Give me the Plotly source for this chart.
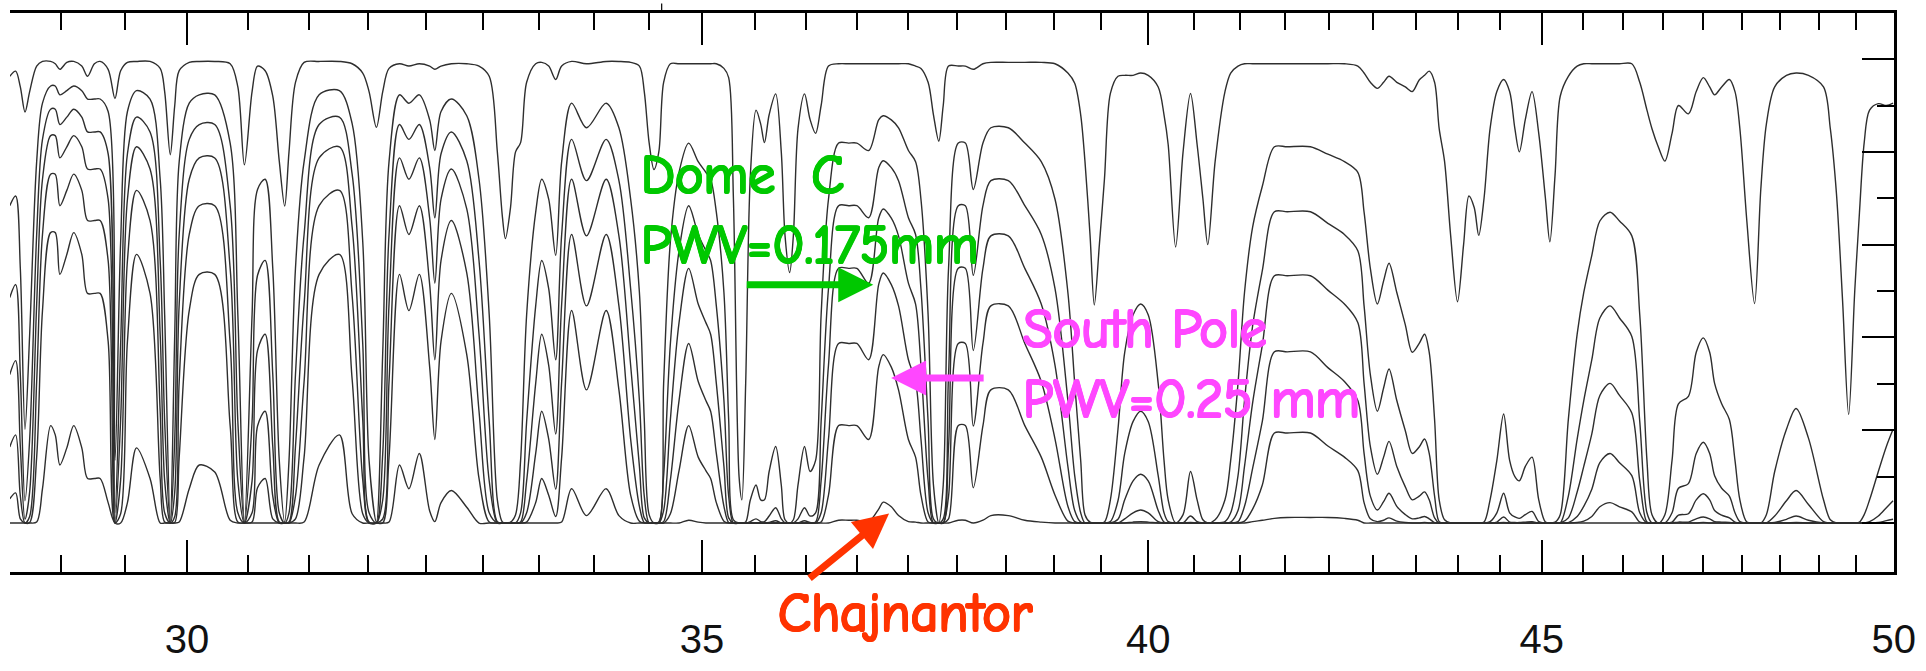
import math
import plotly.graph_objects as go

# Wavelength samples (micron) shared by all transmission curves
wavelength_um = [
    28.45, 28.50, 28.54, 28.58, 28.62, 28.68, 28.73, 28.80, 28.84, 28.88,
    28.94, 29.00, 29.07, 29.12, 29.18, 29.23, 29.30, 29.36, 29.41, 29.47,
    29.55, 29.67, 29.76, 29.80, 29.85, 29.89, 29.93, 30.02, 30.11, 30.25,
    30.39, 30.46, 30.52, 30.59, 30.64, 30.71, 30.78, 30.84, 30.89, 30.93,
    30.99, 31.07, 31.21,
    31.40, 31.52, 31.62, 31.68, 31.75, 31.81, 31.87, 31.97, 32.06, 32.16,
    32.26, 32.31, 32.37, 32.47, 32.62, 32.74, 32.84, 32.92, 32.97, 33.00,
    33.05, 33.10, 33.15, 33.21, 33.30, 33.36, 33.43, 33.50, 33.56, 33.66,
    33.81, 34.01, 34.14, 34.26, 34.35,
    34.40, 34.45, 34.50, 34.55, 34.60, 34.67, 34.76, 34.86, 34.96, 35.04,
    35.09, 35.15, 35.23, 35.28, 35.33, 35.39, 35.42, 35.46, 35.51, 35.57,
    35.62, 35.66, 35.71, 35.78, 35.84, 35.88, 35.93, 35.97, 36.02, 36.09,
    36.15, 36.21, 36.27, 36.35, 36.46, 36.57, 36.66, 36.79, 36.90, 36.95,
    37.04, 37.12, 37.23, 37.31, 37.37, 37.45, 37.51, 37.57, 37.62, 37.68,
    37.79,
    37.87, 37.96, 38.07, 38.16, 38.36, 38.55, 38.74, 38.90, 39.05, 39.13,
    39.20, 39.25, 39.31, 39.36, 39.42, 39.48, 39.55, 39.64, 39.72, 39.82,
    39.91, 40.00, 40.12, 40.19, 40.24, 40.33, 40.42, 40.51, 40.59, 40.66,
    40.72, 40.81, 40.93, 41.00, 41.09, 41.17, 41.27, 41.39, 41.54, 41.70,
    41.99, 42.21, 42.42, 42.59, 42.67, 42.75, 42.84, 42.92, 42.99, 43.09,
    43.20, 43.29, 43.38, 43.45, 43.51, 43.58, 43.64, 43.71, 43.79, 43.88,
    43.96, 44.03, 44.10, 44.16, 44.23, 44.31, 44.40, 44.49, 44.57, 44.64,
    44.70, 44.78, 44.87, 44.96, 45.05, 45.11, 45.18, 45.25, 45.36, 45.48,
    45.57, 45.68, 45.79, 45.93,
    46.06, 46.23, 46.34, 46.44, 46.51, 46.60, 46.69, 46.79, 46.88, 47.02,
    47.13, 47.23, 47.32, 47.39, 47.49, 47.60, 47.68, 47.75, 47.85, 47.96,
    48.05, 48.13, 48.25, 48.42, 48.56, 48.74, 48.96, 49.06, 49.15, 49.24,
    49.33, 49.42, 49.49, 49.56, 49.64, 49.77, 49.89, 49.99,
]

# Transmission, driest (top) to wettest (Chajnantor, bottom)
trans_1 = [
    .963, .974, .940, .886, .930, .985, .995, .995, .990, .978,
    .993, .995, .985, .963, .990, .995, .978, .915, .975, .993,
    .995, .995, .980, .930, .794, .900, .975, .993, .995, .995,
    .990, .940, .772, .930, .985, .975, .920, .780, .683, .800,
    .950, .993, .995,
    .995, .990, .970, .930, .853, .930, .980, .990, .985, .990,
    .985, .978, .985, .990, .990, .985, .963, .800, .660, .613,
    .680, .800, .820, .950, .990, .993, .985, .956, .985, .995,
    .990, .995, .995, .993, .985,
    .930, .820, .762, .800, .950, .990, .990, .990, .990, .990,
    .990, .990, .980, .960, .700, .100, .050, .300, .750, .890,
    .860, .820, .880, .925, .800, .620, .540, .620, .850, .925,
    .870, .840, .900, .985, .990, .990, .990, .990, .990, .990,
    .990, .990, .990, .985, .980, .950, .880, .823, .900, .985,
    .985,
    .985, .978, .990, .993, .993, .993, .993, .990, .970, .948,
    .880, .780, .620, .470, .600, .742, .926, .963, .965, .965,
    .970, .965, .940, .880, .816, .595, .800, .926, .816, .700,
    .600, .780, .930, .970, .985, .990, .990, .990, .990, .990,
    .990, .990, .990, .985, .970, .950, .937, .950, .963, .950,
    .940, .930, .955, .965, .974, .950, .850, .780, .620, .477,
    .600, .705, .680, .620, .700, .850, .930, .956, .930, .850,
    .800, .870, .930, .840, .700, .606, .750, .920, .963, .985,
    .990, .990, .990, .990,
    .990, .990, .950, .890, .850, .810, .780, .840, .900, .882,
    .930, .960, .940, .923, .940, .956, .930, .850, .650, .473,
    .720, .860, .940, .965, .970, .965, .940, .850, .710, .480,
    .234, .500, .670, .820, .890, .904, .900, .905,
]

trans_2 = [
    .684, .705, .549, .202, .407, .779, .905, .942, .942, .923,
    .932, .942, .932, .914, .914, .914, .887, .135, .607, .887,
    .932, .914, .741, .449, .002, .407, .779, .905, .923, .923,
    .819, .449, .002, .449, .719, .741, .549, .135, .002, .135,
    .549, .779, .923,
    .932, .861, .607, .135, .002, .368, .779, .923, .905, .923,
    .869, .803, .887, .914, .878, .741, .449, .050, .002, 0,
    .002, .018, .135, .449, .670, .741, .698, .577, .779, .905,
    .852, .905, .852, .698, .497,
    .223, .018, 0, .002, .301, .607, .756, .819, .779, .756,
    .741, .670, .497, .223, .007, 0, 0, .002, .050, .082,
    .050, .050, .111, .165, .082, .007, 0, .007, .082, .165,
    .111, .135, .449, .698, .819, .819, .819, .803, .869, .878,
    .869, .852, .803, .779, .698, .449, .082, 0, .082, .549,
    .819,
    .819, .719, .819, .852, .852, .819, .779, .698, .497, .301,
    .135, .018, .002, 0, 0, .002, .050, .202, .368, .449,
    .472, .449, .301, .135, .050, 0, .018, .111, .050, .007,
    0, .007, .050, .135, .301, .497, .638, .726, .811, .811,
    .811, .795, .779, .756, .670, .549, .472, .522, .560, .497,
    .427, .368, .387, .407, .368, .223, .050, .007, 0, 0,
    0, 0, 0, 0, .002, .050, .135, .235, .135, .100,
    .091, .122, .142, .050, .002, 0, .002, .018, .223, .407,
    .497, .577, .651, .670,
    .651, .619, .449, .135, .018, 0, .018, .135, .257, .273,
    .368, .399, .368, .301, .257, .223, .135, .050, .002, 0,
    0, .018, .111, .202, .247, .183, .050, .007, 0, 0,
    0, 0, .002, .018, .050, .111, .165, .202,
]

trans_3 = [
    .486, .514, .320, .048, .181, .622, .827, .892, .892, .859,
    .875, .892, .875, .843, .843, .843, .796, .022, .387, .796,
    .875, .843, .566, .219, 0, .181, .622, .827, .859, .859,
    .684, .219, 0, .219, .534, .566, .320, .022, 0, .022,
    .320, .622, .859,
    .875, .752, .387, .022, 0, .150, .622, .859, .827, .859,
    .766, .658, .796, .843, .781, .566, .219, .003, 0, 0,
    0, 0, .022, .219, .468, .566, .505, .352, .622, .827,
    .738, .827, .738, .505, .264,
    .058, 0, 0, 0, .102, .387, .587, .684, .622, .587,
    .566, .468, .264, .058, 0, 0, 0, 0, .003, .009,
    .003, .003, .015, .033, .009, 0, 0, 0, .009, .033,
    .015, .022, .219, .505, .684, .684, .684, .658, .766, .781,
    .766, .738, .658, .622, .505, .219, .009, 0, .009, .320,
    .684,
    .684, .534, .684, .738, .738, .684, .622, .505, .264, .102,
    .022, 0, 0, 0, 0, 0, .003, .048, .150, .219,
    .241, .219, .102, .022, .003, 0, 0, .015, .003, 0,
    0, 0, .003, .022, .102, .264, .425, .544, .671, .671,
    .671, .646, .622, .587, .468, .320, .241, .291, .332, .264,
    .199, .150, .164, .181, .150, .058, .003, 0, 0, 0,
    0, 0, 0, 0, 0, .003, .022, .064, .022, .013,
    .010, .018, .025, .003, 0, 0, 0, 0, .058, .181,
    .264, .352, .442, .468,
    .442, .402, .219, .022, 0, 0, 0, .022, .075, .085,
    .150, .174, .150, .102, .075, .058, .022, .003, 0, 0,
    0, 0, .015, .048, .070, .040, .003, 0, 0, 0,
    0, 0, 0, 0, .003, .015, .033, .048,
]

trans_4 = [
    .320, .350, .165, .008, .067, .472, .741, .835, .835, .787,
    .811, .835, .811, .763, .763, .763, .698, .002, .223, .698,
    .811, .763, .407, .091, 0, .067, .472, .741, .787, .787,
    .549, .091, 0, .091, .372, .407, .165, .002, 0, .002,
    .165, .472, .787,
    .811, .638, .223, .002, 0, .050, .472, .787, .741, .787,
    .657, .517, .698, .763, .677, .407, .091, 0, 0, 0,
    0, 0, .002, .091, .301, .407, .340, .192, .472, .741,
    .619, .741, .619, .340, .122,
    .011, 0, 0, 0, .027, .223, .432, .549, .472, .432,
    .407, .301, .122, .011, 0, 0, 0, 0, 0, 0,
    0, 0, .001, .005, 0, 0, 0, 0, 0, .005,
    .001, .002, .091, .340, .549, .549, .549, .517, .657, .677,
    .657, .619, .517, .472, .340, .091, 0, 0, 0, .165,
    .549,
    .549, .372, .549, .619, .619, .549, .472, .340, .122, .027,
    .002, 0, 0, 0, 0, 0, 0, .008, .050, .091,
    .105, .091, .027, .002, 0, 0, 0, .001, 0, 0,
    0, 0, 0, .002, .027, .122, .259, .383, .533, .533,
    .533, .502, .472, .432, .301, .165, .105, .142, .176, .122,
    .078, .050, .058, .067, .050, .011, 0, 0, 0, 0,
    0, 0, 0, 0, 0, 0, .002, .013, .002, .001,
    .001, .002, .003, 0, 0, 0, 0, 0, .011, .067,
    .122, .192, .275, .301,
    .275, .237, .091, .002, 0, 0, 0, .002, .017, .020,
    .050, .063, .050, .027, .017, .011, .002, 0, 0, 0,
    0, 0, .001, .008, .015, .006, 0, 0, 0, 0,
    0, 0, 0, 0, 0, .001, .005, .008,
]

trans_5 = [
    .164, .190, .058, 0, .014, .305, .622, .752, .752, .684,
    .717, .752, .717, .652, .652, .652, .566, 0, .093, .566,
    .717, .652, .241, .022, 0, .014, .305, .622, .684, .684,
    .387, .022, 0, .022, .209, .241, .058, 0, 0, 0,
    .058, .305, .684,
    .717, .490, .093, 0, 0, .009, .305, .684, .622, .684,
    .514, .352, .566, .652, .539, .241, .022, 0, 0, 0,
    0, 0, 0, .022, .150, .241, .181, .073, .305, .622,
    .468, .622, .468, .181, .036,
    .001, 0, 0, 0, .003, .093, .264, .387, .305, .264,
    .241, .150, .036, .001, 0, 0, 0, 0, 0, 0,
    0, 0, 0, 0, 0, 0, 0, 0, 0, 0,
    0, 0, .022, .181, .387, .387, .387, .352, .514, .539,
    .514, .468, .352, .305, .181, .022, 0, 0, 0, .058,
    .387,
    .387, .209, .387, .468, .468, .387, .305, .181, .036, .003,
    0, 0, 0, 0, 0, 0, 0, 0, .009, .022,
    .028, .022, .003, 0, 0, 0, 0, 0, 0, 0,
    0, 0, 0, 0, .003, .036, .118, .219, .369, .369,
    .369, .335, .305, .264, .150, .058, .028, .046, .064, .036,
    .018, .009, .011, .014, .009, .001, 0, 0, 0, 0,
    0, 0, 0, 0, 0, 0, 0, .001, 0, 0,
    0, 0, 0, 0, 0, 0, 0, 0, .001, .014,
    .036, .073, .130, .150,
    .130, .102, .022, 0, 0, 0, 0, 0, .002, .002,
    .009, .013, .009, .003, .002, .001, 0, 0, 0, 0,
    0, 0, 0, 0, .001, 0, 0, 0, 0, 0,
    0, 0, 0, 0, 0, 0, 0, 0,
]

trans_6 = [
    .052, .065, .009, 0, .001, .142, .458, .626, .626, .536,
    .579, .626, .579, .495, .495, .495, .392, 0, .020, .392,
    .579, .495, .096, .002, 0, .001, .142, .458, .536, .536,
    .210, .002, 0, .002, .076, .096, .009, 0, 0, 0,
    .009, .142, .536,
    .579, .310, .020, 0, 0, 0, .142, .536, .458, .536,
    .336, .180, .392, .495, .363, .096, .002, 0, 0, 0,
    0, 0, 0, .002, .044, .096, .060, .014, .142, .458,
    .287, .458, .287, .060, .004,
    0, 0, 0, 0, 0, .020, .113, .210, .142, .113,
    .096, .044, .004, 0, 0, 0, 0, 0, 0, 0,
    0, 0, 0, 0, 0, 0, 0, 0, 0, 0,
    0, 0, .002, .060, .210, .210, .210, .180, .336, .363,
    .336, .287, .180, .142, .060, .002, 0, 0, 0, .009,
    .210,
    .210, .076, .210, .287, .287, .210, .142, .060, .004, 0,
    0, 0, 0, 0, 0, 0, 0, 0, 0, .002,
    .003, .002, 0, 0, 0, 0, 0, 0, 0, 0,
    0, 0, 0, 0, 0, .004, .030, .082, .194, .194,
    .194, .166, .142, .113, .044, .009, .003, .006, .011, .004,
    .001, 0, 0, .001, 0, 0, 0, 0, 0, 0,
    0, 0, 0, 0, 0, 0, 0, 0, 0, 0,
    0, 0, 0, 0, 0, 0, 0, 0, 0, .001,
    .004, .014, .035, .044,
    .035, .024, .002, 0, 0, 0, 0, 0, 0, 0,
    0, .001, 0, 0, 0, 0, 0, 0, 0, 0,
    0, 0, 0, 0, 0, 0, 0, 0, 0, 0,
    0, 0, 0, 0, 0, 0, 0, 0,
]

trans_7 = [
    0, 0, 0, 0, 0, .002, .074, .210, .190, .125,
    .162, .210, .162, .096, .096, .096, .044, 0, 0, .044,
    .162, .096, 0, 0, 0, 0, .002, .074, .125, .110,
    .006, 0, 0, 0, 0, 0, 0, 0, 0, 0,
    0, .002, .125,
    .190, .020, 0, 0, 0, 0, .002, .125, .074, .150,
    .026, .003, .044, .070, .034, 0, 0, 0, 0, 0,
    0, 0, 0, 0, 0, 0, 0, 0, .002, .074,
    .016, .074, .016, 0, 0,
    0, 0, 0, 0, 0, 0, 0, .006, .002, 0,
    0, 0, 0, 0, 0, 0, 0, 0, 0, 0,
    0, 0, 0, 0, 0, 0, 0, 0, 0, 0,
    0, 0, 0, 0, .006, .006, .006, .003, .030, .045,
    .035, .016, .003, .002, 0, 0, 0, 0, 0, 0,
    .006,
    .006, 0, .006, .016, .016, .006, .002, 0, 0, 0,
    0, 0, 0, 0, 0, 0, 0, 0, 0, 0,
    0, 0, 0, 0, 0, 0, 0, 0, 0, 0,
    0, 0, 0, 0, 0, 0, .003, .006, .010, .012,
    .012, .012, .010, .006, 0, 0, 0, 0, 0, 0,
    0, 0, 0, 0, 0, 0, 0, 0, 0, 0,
    0, 0, 0, 0, 0, 0, 0, 0, 0, 0,
    0, 0, 0, 0, 0, 0, 0, 0, 0, 0,
    0, 0, 0, 0,
    0, 0, 0, 0, 0, 0, 0, 0, 0, 0,
    0, 0, 0, 0, 0, 0, 0, 0, 0, 0,
    0, 0, 0, 0, 0, 0, 0, 0, 0, 0,
    0, 0, 0, 0, 0, 0, 0, 0,
]

major_ticks = [30, 35, 40, 45, 50]
major_tick_text = ["30", "35", "40", "45", "50"]
y_major_ticks = [0, 0.2, 0.4, 0.6, 0.8, 1.0]
y_minor_ticks = [0.1, 0.3, 0.5, 0.7, 0.9]

# minor wavelength ticks every 5/9 micron between the labelled ones
minor_ticks = [round(30 + n * 5 / 9, 4) for n in range(-2, 37) if n % 9]

curves = [trans_1, trans_2, trans_3, trans_4, trans_5, trans_6, trans_7]

fig = go.Figure()
for series in curves:
    fig.add_trace(go.Scatter(
        x=wavelength_um, y=series, mode="lines",
        line=dict(color="#2e2e2e", width=1.4, shape="spline", smoothing=0.9),
        hoverinfo="skip", showlegend=False,
    ))

green = "#00c800"
magenta = "#ff47ff"
red = "#ff3300"


def label_font(color):
    # hand-lettered look: comic face thickened with a one-pixel outline
    offsets = [(1, 0), (-1, 0), (0, 1), (0, -1), (1, 1), (-1, -1), (1, -1), (-1, 1)]
    halo = ", ".join(f"{dx}px {dy}px 0 {color}" for dx, dy in offsets)
    return dict(family="Comic Sans MS, Comic Neue, DejaVu Sans Condensed, DejaVu Sans",
                size=54, color=color, shadow=halo)


annotations = [
    dict(text="Dome&nbsp; C<br>PWV=0.175mm", x=0.3337, y=0.646,
         xanchor="left", yanchor="middle", align="left",
         font=label_font(green)),
    dict(text="South Pole<br>PWV=0.25 mm", x=0.5365, y=0.372,
         xanchor="left", yanchor="middle", align="left",
         font=label_font(magenta)),
    dict(text="Chajnantor", x=0.4751, y=-0.0739, xanchor="center", yanchor="middle",
         font=label_font(red)),
    # arrows: tip at (x, y), tail offset in pixels
    dict(text="", x=0.4582, y=0.5137, ax=-128, ay=0, showarrow=True,
         arrowhead=2, arrowsize=1.0, arrowwidth=7, arrowcolor=green),
    dict(text="", x=0.4677, y=0.3471, ax=94, ay=0, showarrow=True,
         arrowhead=2, arrowsize=1.0, arrowwidth=7, arrowcolor=magenta),
    dict(text="", x=0.4666, y=0.1048, ax=-81, ay=66, showarrow=True,
         arrowhead=2, arrowsize=1.0, arrowwidth=7, arrowcolor=red),
]
for a in annotations:
    a.update(xref="paper", yref="paper")
    a.setdefault("showarrow", False)

fig.update_layout(
    width=1926, height=671,
    margin=dict(l=10, r=28, t=10, b=79),
    paper_bgcolor="white", plot_bgcolor="white",
    showlegend=False,
    annotations=annotations,
    shapes=[
        # short stray tick standing above the upper frame line
        dict(type="line", xref="paper", yref="paper",
             x0=0.3459, x1=0.3459, y0=1.0, y1=1.0172,
             line=dict(color="black", width=1.2)),
    ],
)

fig.update_xaxes(
    type="log",
    range=[math.log10(28.452), math.log10(50.004)],
    showline=True, linecolor="black", linewidth=2.5, mirror="ticks",
    ticks="inside", ticklen=32, tickwidth=1.6, tickcolor="black",
    tickmode="array", tickvals=major_ticks, ticktext=major_tick_text,
    tickfont=dict(family="Liberation Sans Narrow, Arial Narrow, Liberation Sans, Arial",
                  size=40, color="#111111"),
    ticklabelstandoff=30,
    minor=dict(tickmode="array", tickvals=minor_ticks, ticks="inside",
               ticklen=17, tickwidth=1.6, tickcolor="black", showgrid=False),
    showgrid=False, zeroline=False,
)

fig.update_yaxes(
    side="right",
    range=[-0.1056, 1.0994],
    showline=True, linecolor="black", linewidth=2.5, mirror=False,
    ticks="inside", ticklen=32, tickwidth=1.6, tickcolor="black",
    tickmode="array", tickvals=y_major_ticks, showticklabels=False,
    minor=dict(tickmode="array", tickvals=y_minor_ticks, ticks="inside",
               ticklen=17, tickwidth=1.6, tickcolor="black", showgrid=False),
    showgrid=False, zeroline=False,
)

fig.write_html("out.html")
